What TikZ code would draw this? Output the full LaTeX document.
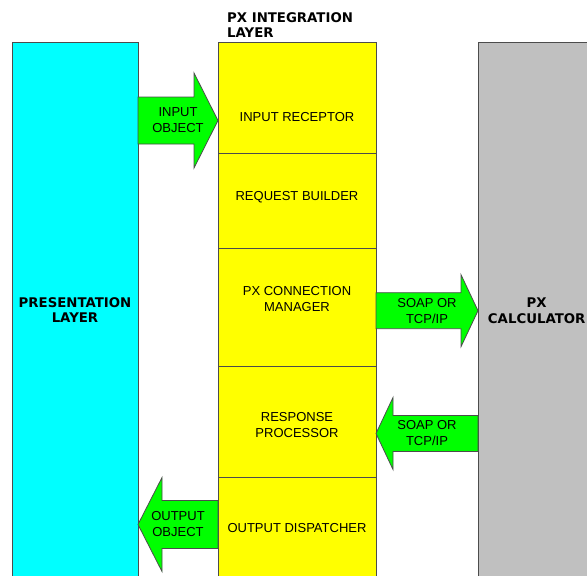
\documentclass[tikz,border=0pt]{standalone}
\usepackage{fontspec}
\setmainfont{Liberation Sans}
\newfontfamily\headfont{DejaVu Sans}
\usetikzlibrary{calc}

\definecolor{presblue}{HTML}{00FFFF}
\definecolor{intyellow}{HTML}{FFFF00}
\definecolor{calcgray}{HTML}{C0C0C0}
\definecolor{arrowgreen}{HTML}{00FF00}

\tikzset{
  layerbox/.style={draw=black!70, line width=0.9pt, inner sep=0pt, outer sep=0pt, anchor=north west},
  greenarrow/.style={draw=black!70, line width=0.8pt, fill=arrowgreen, line join=miter},
  boxtext/.style={inner sep=0pt, align=center, font=\fontsize{13}{16}\selectfont},
  headtext/.style={inner sep=0pt, align=center, font=\headfont\bfseries\fontsize{13.3}{15.5}\selectfont}
}

% #1 tail, #2 tip, #3 half shaft, #4 half head, #5 head length
\newcommand{\blockarrow}[5]{%
  \draw[greenarrow] let \p1=(#1), \p2=(#2), \p3=($(#2)!#5!(#1)$) in
    (\x1,\y1+#3) -- (\x3,\y1+#3) -- (\x3,\y1+#4) -- (\x2,\y2)
    -- (\x3,\y1-#4) -- (\x3,\y1-#3) -- (\x1,\y1-#3) -- cycle;}

\begin{document}
\begin{tikzpicture}[x=1pt, y=-1pt]
  \useasboundingbox (0,0) rectangle (587,576);
  \clip (0,0) rectangle (587,576);

  % layers
  \node[layerbox, fill=presblue, minimum width=126pt, minimum height=550pt] (pres) at (12,42) {};
  \node[layerbox, fill=calcgray, minimum width=130pt, minimum height=550pt] (calc) at (478,42) {};
  \node[layerbox, fill=intyellow, minimum width=158pt, minimum height=111pt] (recv) at (218,42) {};
  \node[layerbox, fill=intyellow, minimum width=158pt, minimum height=95pt] (build) at (recv.south west) {};
  \node[layerbox, fill=intyellow, minimum width=158pt, minimum height=118pt] (conn) at (build.south west) {};
  \node[layerbox, fill=intyellow, minimum width=158pt, minimum height=111pt] (resp) at (conn.south west) {};
  \node[layerbox, fill=intyellow, minimum width=158pt, minimum height=120pt] (disp) at (resp.south west) {};

  \node[headtext, align=left, anchor=west] (title) at (227,25.3) {PX INTEGRATION\\LAYER};
  \node[headtext] (prestext) at (75,310) {PRESENTATION\\LAYER};
  \node[headtext] (calctext) at (536.7,310.5) {PX\\CALCULATOR};

  \node[boxtext] (recvtext) at (297,116.7) {INPUT RECEPTOR};
  \node[boxtext] (buildtext) at (297,196.7) {REQUEST BUILDER};
  \node[boxtext] (conntext) at (297,298.7) {PX CONNECTION\\MANAGER};
  \node[boxtext] (resptext) at (297,425.5) {RESPONSE\\PROCESSOR};
  \node[boxtext] (disptext) at (297,528.3) {OUTPUT DISPATCHER};

  % arrows
  \coordinate (inT) at (pres.east |- 0,120.5);
  \coordinate (inH) at (recv.west |- 0,120.5);
  \coordinate (soapT) at (conn.east |- 0,310.7);
  \coordinate (soapH) at (calc.west |- 0,310.7);
  \coordinate (backT) at (calc.west |- 0,433.5);
  \coordinate (backH) at (resp.east |- 0,433.5);
  \coordinate (outT) at (disp.west |- 0,524.5);
  \coordinate (outH) at (pres.east |- 0,524.5);

  \blockarrow{inT}{inH}{23.5pt}{47.5pt}{24pt}
  \blockarrow{soapT}{soapH}{18pt}{36pt}{17pt}
  \blockarrow{backT}{backH}{18pt}{36pt}{17pt}
  \blockarrow{outT}{outH}{24pt}{47pt}{24pt}

  \node[boxtext] (intext) at ($(inT)!0.5!(inH)$) {INPUT\\OBJECT};
  \node[boxtext] (soaptext) at ($(soapT)!0.5!(soapH)$) {SOAP OR\\TCP/IP};
  \node[boxtext] (backtext) at ($(backT)!0.5!(backH)$) {SOAP OR\\TCP/IP};
  \node[boxtext] (outtext) at ($(outT)!0.5!(outH)$) {OUTPUT\\OBJECT};
\end{tikzpicture}
\end{document}
